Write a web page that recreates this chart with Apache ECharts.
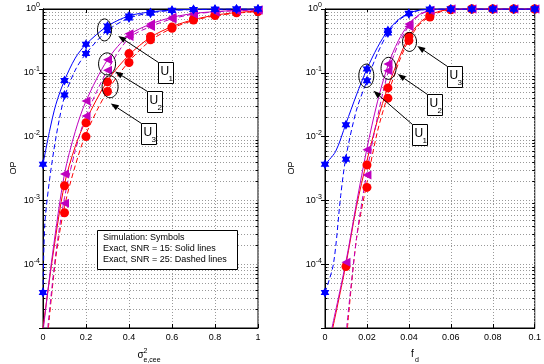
<!DOCTYPE html>
<html>
<head>
<meta charset="utf-8">
<script src="https://cdn.jsdelivr.net/npm/echarts@6/dist/echarts.min.js"></script>
<style>
html, body { margin: 0; padding: 0; background: #fff; }
#chart { width: 544px; height: 364px; }
</style>
</head>
<body>
<div id="chart"></div>
<script>
// ---- left panel: OP vs sigma^2_{e,cee} ----
const sigmaX = [0, 0.1, 0.2, 0.3, 0.4, 0.5, 0.6, 0.7, 0.8, 0.9, 1]
// simulation (symbols)
const simU1Snr15Sigma = [0.0037, 0.076, 0.28, 0.54, 0.78, 0.88, 0.96, 0.985, 0.995, 1, 1]
const simU1Snr25Sigma = [3.6e-5, 0.045, 0.2, 0.46, 0.72, 0.86, 0.95, 0.98, 0.99, 1, 1]
const simU2Snr15Sigma = [null, 0.0026, 0.036, 0.16, 0.41, 0.58, 0.74, 0.85, 0.91, 0.95, 0.97]
const simU2Snr25Sigma = [null, 0.0009, 0.021, 0.11, 0.37, 0.53, 0.7, 0.83, 0.9, 0.94, 0.96]
const simU3Snr15Sigma = [null, 0.0017, 0.0165, 0.072, 0.2, 0.37, 0.52, 0.7, 0.81, 0.885, 0.925]
const simU3Snr25Sigma = [null, 0.00064, 0.01, 0.051, 0.145, 0.33, 0.5, 0.67, 0.79, 0.87, 0.91]
// exact (lines), [sigma, OP]
const exactU1Snr15Sigma = [[0, 0.0037], [0.03, 0.012], [0.06, 0.032], [0.1, 0.076], [0.15, 0.17], [0.2, 0.28], [0.3, 0.54], [0.4, 0.78], [0.5, 0.9], [0.6, 0.96], [0.7, 0.985], [0.8, 0.995], [0.9, 1], [1, 1]]
const exactU1Snr25Sigma = [[0, 3.6e-5], [0.008, 0.0004], [0.025, 0.0015], [0.05, 0.006], [0.075, 0.018], [0.1, 0.042], [0.15, 0.11], [0.2, 0.2], [0.3, 0.46], [0.4, 0.72], [0.5, 0.87], [0.6, 0.95], [0.7, 0.98], [0.8, 0.99], [0.9, 1], [1, 1]]
const exactU2Snr15Sigma = [[0.002, 1e-5], [0.045, 1.5e-4], [0.1, 0.0026], [0.15, 0.012], [0.2, 0.036], [0.3, 0.16], [0.4, 0.39], [0.5, 0.58], [0.6, 0.74], [0.7, 0.85], [0.8, 0.91], [0.9, 0.95], [1, 0.97]]
const exactU2Snr25Sigma = [[0.022, 1e-5], [0.06, 1.5e-4], [0.1, 0.0011], [0.15, 0.006], [0.2, 0.021], [0.3, 0.11], [0.4, 0.35], [0.5, 0.53], [0.6, 0.7], [0.7, 0.83], [0.8, 0.9], [0.9, 0.94], [1, 0.96]]
const exactU3Snr15Sigma = [[0, 1e-5], [0.045, 1.3e-4], [0.1, 0.0018], [0.15, 0.007], [0.2, 0.018], [0.3, 0.075], [0.4, 0.19], [0.5, 0.36], [0.6, 0.53], [0.7, 0.68], [0.8, 0.8], [0.9, 0.88], [1, 0.93]]
const exactU3Snr25Sigma = [[0.025, 1e-5], [0.06, 1.3e-4], [0.1, 0.0008], [0.15, 0.0035], [0.2, 0.011], [0.3, 0.052], [0.4, 0.15], [0.5, 0.32], [0.6, 0.5], [0.7, 0.66], [0.8, 0.78], [0.9, 0.86], [1, 0.91]]

// ---- right panel: OP vs f_d ----
const fdX = [0, 0.01, 0.02, 0.03, 0.04, 0.05, 0.06, 0.07, 0.08, 0.09, 0.1]
const simU1Snr15Fd = [0.0037, 0.0154, 0.115, 0.46, 0.86, 0.99, 1, 1, 1, 1, 1]
const simU1Snr25Fd = [3.6e-5, 0.0044, 0.075, 0.42, 0.84, 0.99, 1, 1, 1, 1, 1]
const simU2Snr15Fd = [null, 1.07e-4, 0.0062, 0.137, 0.58, 0.96, 1, 1, 1, 1, 1]
const simU2Snr25Fd = [null, null, 0.0025, 0.108, 0.53, 0.94, 1, 1, 1, 1, 1]
const simU3Snr15Fd = [null, 9.2e-5, 0.0036, 0.058, 0.37, 0.79, 0.98, 1, 1, 1, 1]
const simU3Snr25Fd = [null, null, 0.0016, 0.04, 0.32, 0.75, 0.97, 1, 1, 1, 1]
const exactU1Snr15Fd = [[0, 0.0037], [0.005, 0.0058], [0.01, 0.016], [0.015, 0.045], [0.02, 0.115], [0.025, 0.25], [0.03, 0.46], [0.035, 0.68], [0.04, 0.86], [0.045, 0.96], [0.05, 0.99], [0.06, 1], [0.1, 1]]
const exactU1Snr25Fd = [[0, 3.6e-5], [0.004, 1e-4], [0.0075, 0.0012], [0.01, 0.0048], [0.015, 0.026], [0.02, 0.075], [0.025, 0.2], [0.03, 0.42], [0.035, 0.66], [0.04, 0.84], [0.045, 0.95], [0.05, 0.99], [0.06, 1], [0.1, 1]]
const exactU2Snr15Fd = [[0.0033, 1e-5], [0.01, 1.1e-4], [0.015, 0.0009], [0.02, 0.0065], [0.025, 0.035], [0.03, 0.13], [0.035, 0.32], [0.04, 0.58], [0.045, 0.82], [0.05, 0.95], [0.055, 0.99], [0.06, 1], [0.1, 1]]
const exactU2Snr25Fd = [[0.0103, 1e-5], [0.015, 2.5e-4], [0.02, 0.0028], [0.025, 0.02], [0.03, 0.1], [0.035, 0.28], [0.04, 0.54], [0.045, 0.8], [0.05, 0.94], [0.055, 0.99], [0.06, 1], [0.1, 1]]
const exactU3Snr15Fd = [[0.0037, 1e-5], [0.01, 1e-4], [0.015, 0.0008], [0.02, 0.0042], [0.025, 0.018], [0.03, 0.06], [0.035, 0.16], [0.04, 0.37], [0.045, 0.6], [0.05, 0.8], [0.055, 0.93], [0.06, 0.98], [0.07, 1], [0.1, 1]]
const exactU3Snr25Fd = [[0.0107, 1e-5], [0.015, 2.5e-4], [0.02, 0.0019], [0.025, 0.012], [0.03, 0.045], [0.035, 0.14], [0.04, 0.33], [0.045, 0.57], [0.05, 0.76], [0.055, 0.9], [0.06, 0.97], [0.07, 1], [0.1, 1]]

const legendLines = ['Simulation: Symbols', 'Exact, SNR = 15: Solid lines', 'Exact, SNR = 25: Dashed lines']

const FONT = '"Liberation Sans", Arial, sans-serif'
const BLUE = '#0000ff'
const MAGENTA = '#bf00bf'
const RED = '#ff0000'
const GRID_COLOR = '#999999'
const HEXAGRAM = 'path://M0,-10L2.887,-5L8.66,-5L5.774,0L8.66,5L2.887,5L0,10L-2.887,5L-8.66,5L-5.774,0L-8.66,-5L-2.887,-5Z'

// callouts, given in data coordinates of each panel
const callouts = [
  { grid: 0, label: '1', ellipse: [0.286, 0.47], rx: 7, ry: 11, head: [0.35, 0.379], box: [0.536, 0.1486] },
  { grid: 0, label: '2', ellipse: [0.298, 0.138], rx: 8.5, ry: 11, head: [0.335, 0.1047], box: [0.486, 0.0514] },
  { grid: 0, label: '3', ellipse: [0.312, 0.0604], rx: 8, ry: 11, head: [0.315, 0.0331], box: [0.456, 0.01625] },
  { grid: 1, label: '3', ellipse: [0.0403, 0.305], rx: 7, ry: 9.5, head: [0.044, 0.264], box: [0.0582, 0.1285] },
  { grid: 1, label: '2', ellipse: [0.0303, 0.1175], rx: 7.5, ry: 11, head: [0.0347, 0.0954], box: [0.0486, 0.0465] },
  { grid: 1, label: '1', ellipse: [0.0197, 0.0898], rx: 7.5, ry: 11.7, head: [0.0231, 0.0523], box: [0.0417, 0.0158] }
]

var minorValues = []
for (var e = -5; e < 0; e++) {
  for (var m = 2; m <= 9; m++) minorValues.push(m * Math.pow(10, e))
}

function xAxes(gi, max, interval, pos) {
  return {
    gridIndex: gi, type: 'value', min: 0, max: max, interval: interval, position: pos,
    axisLine: { show: true, onZero: false, lineStyle: { color: '#000', width: 1 } },
    axisTick: { show: true, inside: true, length: 4, lineStyle: { color: '#000' } },
    axisLabel: { show: pos === 'bottom', color: '#000', fontSize: 9, fontFamily: FONT, margin: 5 },
    splitLine: { show: pos === 'bottom', lineStyle: { color: GRID_COLOR, type: [1, 2], width: 1 } }
  }
}

function yAxes(gi, pos) {
  return {
    gridIndex: gi, type: 'log', logBase: 10, min: 1e-5, max: 1, position: pos,
    axisLine: { show: true, lineStyle: { color: '#000', width: 1 } },
    axisTick: { show: true, inside: true, length: 4, lineStyle: { color: '#000' } },
    axisLabel: {
      show: pos === 'left', margin: 3,
      formatter: function (v) {
        var p = Math.round(Math.log10(v))
        if (p === -5) return ''
        return '{b|10}{e|' + p + '}'
      },
      rich: {
        b: { fontSize: 9, fontFamily: FONT, color: '#000', lineHeight: 18, verticalAlign: 'middle' },
        e: { fontSize: 7, fontFamily: FONT, color: '#000', lineHeight: 7, verticalAlign: 'top', padding: [2, 0, 0, 0] }
      }
    },
    splitLine: { show: pos === 'left', lineStyle: { color: GRID_COLOR, type: [1, 2], width: 1 } }
  }
}

function minorGrid(gi, xMax) {
  return {
    type: 'custom', xAxisIndex: gi * 2, yAxisIndex: gi * 2, silent: true, z: 1,
    data: minorValues.map(function (v) { return [0, v] }),
    renderItem: function (params, api) {
      var v = api.value(1)
      var p0 = api.coord([0, v])
      var p1 = api.coord([xMax, v])
      var y = Math.round(p0[1]) + 0.5
      return {
        type: 'group',
        children: [
          { type: 'line', shape: { x1: p0[0], y1: y, x2: p1[0], y2: y }, style: { stroke: GRID_COLOR, lineWidth: 1, lineDash: [1, 2] } },
          { type: 'line', shape: { x1: p0[0], y1: y, x2: p0[0] + 2.5, y2: y }, style: { stroke: '#000', lineWidth: 1 } },
          { type: 'line', shape: { x1: p1[0], y1: y, x2: p1[0] - 2.5, y2: y }, style: { stroke: '#000', lineWidth: 1 } }
        ]
      }
    }
  }
}

function exactLine(gi, data, color, dashed) {
  return {
    type: 'line', xAxisIndex: gi * 2, yAxisIndex: gi * 2, data: data,
    smooth: 0.3, symbol: 'none', silent: true, clip: true, z: 3,
    lineStyle: { color: color, width: 1, type: dashed ? [5, 3] : 'solid' }
  }
}

function simPoints(gi, xs, ys, color, symbol, size, rotate) {
  var pts = []
  xs.forEach(function (x, i) { if (ys[i] != null) pts.push([x, ys[i]]) })
  return {
    type: 'scatter', xAxisIndex: gi * 2, yAxisIndex: gi * 2, data: pts,
    symbol: symbol, symbolSize: size, symbolRotate: rotate || 0, symbolKeepAspect: true,
    silent: true, z: 4, itemStyle: { color: color, opacity: 1 }
  }
}

var chart = echarts.init(document.getElementById('chart'))
var option = {
  animation: false,
  backgroundColor: '#fff',
  grid: [
    { left: 43, top: 8, width: 215, height: 320, show: true, borderColor: '#000', borderWidth: 1 },
    { left: 325, top: 8, width: 216, height: 320, show: true, borderColor: '#000', borderWidth: 1 }
  ],
  xAxis: [xAxes(0, 1, 0.2, 'bottom'), xAxes(0, 1, 0.2, 'top'), xAxes(1, 0.1, 0.02, 'bottom'), xAxes(1, 0.1, 0.02, 'top')],
  yAxis: [yAxes(0, 'left'), yAxes(0, 'right'), yAxes(1, 'left'), yAxes(1, 'right')],
  series: [
    minorGrid(0, 1),
    minorGrid(1, 0.1),
    exactLine(0, exactU3Snr15Sigma, RED, false),
    exactLine(0, exactU3Snr25Sigma, RED, true),
    exactLine(0, exactU2Snr15Sigma, MAGENTA, false),
    exactLine(0, exactU2Snr25Sigma, MAGENTA, true),
    exactLine(0, exactU1Snr15Sigma, BLUE, false),
    exactLine(0, exactU1Snr25Sigma, BLUE, true),
    simPoints(0, sigmaX, simU3Snr15Sigma, RED, 'circle', 9),
    simPoints(0, sigmaX, simU3Snr25Sigma, RED, 'circle', 9),
    simPoints(0, sigmaX, simU2Snr15Sigma, MAGENTA, 'triangle', 9, 90),
    simPoints(0, sigmaX, simU2Snr25Sigma, MAGENTA, 'triangle', 9, 90),
    simPoints(0, sigmaX, simU1Snr15Sigma, BLUE, HEXAGRAM, 10),
    simPoints(0, sigmaX, simU1Snr25Sigma, BLUE, HEXAGRAM, 10),
    exactLine(1, exactU3Snr15Fd, RED, false),
    exactLine(1, exactU3Snr25Fd, RED, true),
    exactLine(1, exactU2Snr15Fd, MAGENTA, false),
    exactLine(1, exactU2Snr25Fd, MAGENTA, true),
    exactLine(1, exactU1Snr15Fd, BLUE, false),
    exactLine(1, exactU1Snr25Fd, BLUE, true),
    simPoints(1, fdX, simU3Snr15Fd, RED, 'circle', 9),
    simPoints(1, fdX, simU3Snr25Fd, RED, 'circle', 9),
    simPoints(1, fdX, simU2Snr15Fd, MAGENTA, 'triangle', 9, 90),
    simPoints(1, fdX, simU2Snr25Fd, MAGENTA, 'triangle', 9, 90),
    simPoints(1, fdX, simU1Snr15Fd, BLUE, HEXAGRAM, 10),
    simPoints(1, fdX, simU1Snr25Fd, BLUE, HEXAGRAM, 10)
  ]
}
chart.setOption(option)

// texts, legend box and callouts
var g = []
function txt(x, y, s, size, extra) {
  var o = { type: 'text', x: x, y: y, z: 101, style: { text: s, fill: '#000', fontSize: size, fontFamily: FONT, align: 'left', verticalAlign: 'middle' } }
  return Object.assign(o, extra || {})
}
function vtxt(x, y, s) {
  return { type: 'text', x: x, y: y, z: 101, rotation: Math.PI / 2, style: { text: s, fill: '#000', fontSize: 9, fontFamily: FONT, align: 'center', verticalAlign: 'middle' } }
}
g.push(vtxt(14, 168, 'OP'))
g.push(vtxt(292, 168, 'OP'))
g.push(txt(137.5, 355, 'σ', 10))
g.push(txt(143.5, 351, '2', 7))
g.push(txt(143.5, 360.5, 'e,cee', 7))
g.push(txt(411, 354, 'f', 10))
g.push(txt(415, 360, 'd', 7))

g.push({ type: 'rect', z: 100, shape: { x: 97.5, y: 230.5, width: 140, height: 39 }, style: { fill: '#fff', stroke: '#000', lineWidth: 1 } })
legendLines.forEach(function (s, i) { g.push(txt(103, 237.5 + i * 11, s, 9)) })

callouts.forEach(function (a) {
  var idx = { xAxisIndex: a.grid * 2, yAxisIndex: a.grid * 2 }
  var c = chart.convertToPixel(idx, a.ellipse)
  var h = chart.convertToPixel(idx, a.head)
  var b = chart.convertToPixel(idx, a.box)
  var bx0 = Math.round(b[0]) + 0.5
  var by0 = Math.round(b[1]) + 0.5
  g.push({ type: 'ellipse', z: 100, shape: { cx: c[0], cy: c[1], rx: a.rx, ry: a.ry }, style: { fill: 'none', stroke: '#000', lineWidth: 1 } })
  var dx = h[0] - bx0, dy = h[1] - by0
  var len = Math.sqrt(dx * dx + dy * dy)
  var ux = dx / len, uy = dy / len
  var L = 8, W = 3
  var tx = h[0] - ux * L, ty = h[1] - uy * L
  g.push({ type: 'line', z: 100, shape: { x1: bx0, y1: by0, x2: tx, y2: ty }, style: { stroke: '#000', lineWidth: 1 } })
  g.push({ type: 'polygon', z: 100, shape: { points: [[h[0], h[1]], [tx - uy * W, ty + ux * W], [tx + uy * W, ty - ux * W]] }, style: { fill: '#000' } })
  g.push({ type: 'rect', z: 100, shape: { x: bx0, y: by0, width: 15, height: 21 }, style: { fill: '#fff', stroke: '#000', lineWidth: 1 } })
  g.push(txt(bx0 + 2, by0 + 9, 'U', 12))
  g.push(txt(bx0 + 10, by0 + 16, a.label, 8))
})

chart.setOption({ graphic: g })
</script>
</body>
</html>
